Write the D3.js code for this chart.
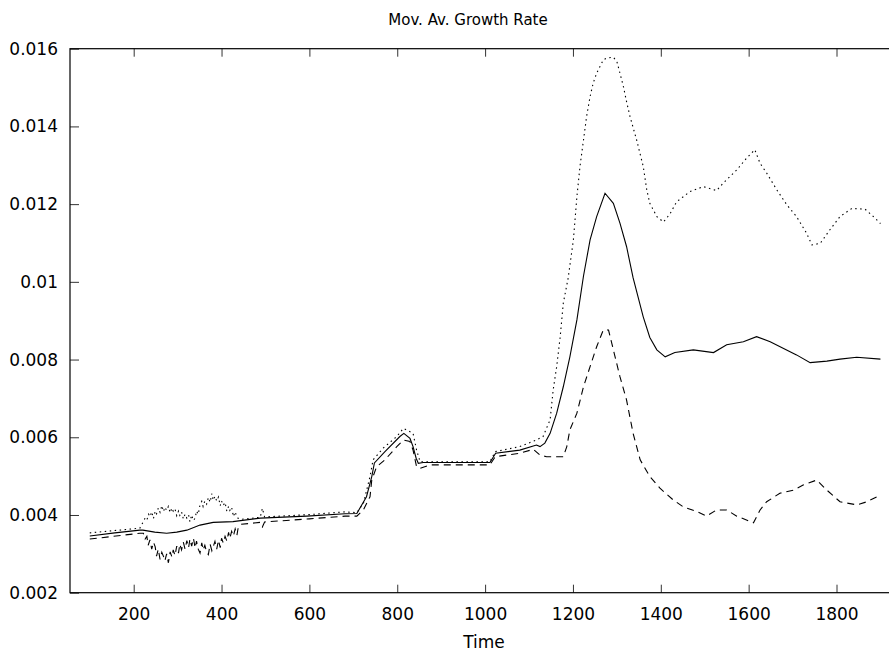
<!DOCTYPE html>
<html>
<head>
<meta charset="utf-8">
<script src="https://cdn.jsdelivr.net/npm/d3@7"></script>
<style>
  body { margin: 0; background: #fff; }
  text { font-family: "DejaVu Sans", sans-serif; fill: #000; }
</style>
</head>
<body>
<div id="chart"></div>
<script>
// tick values and labels
var xTicks = [200, 400, 600, 800, 1000, 1200, 1400, 1600, 1800];
var xTickLabels = ["200", "400", "600", "800", "1000", "1200", "1400", "1600", "1800"];
var yTicks = [0.002, 0.004, 0.006, 0.008, 0.01, 0.012, 0.014, 0.016];
var yTickLabels = ["0.002", "0.004", "0.006", "0.008", "0.01", "0.012", "0.014", "0.016"];

// mean (solid line)
var meanT = [100,157,214,221,248,275,298,321,351,381,426,488,594,681,708,730,742,748,772,806,
  815,829,836,843,848,859,1011,1024,1079,1117,1125,1136,1148,1163,1178,1193,1209,1224,1239,1254,
  1273,1292,1307,1322,1337,1360,1375,1391,1410,1432,1474,1520,1550,1588,1618,1649,1709,1740,1778,1808,
  1846,1900];
var meanV = [0.00346,0.00354,0.00361,0.00361,0.00356,0.00353,0.00356,0.00361,0.00374,0.00381,0.00383,0.00392,0.00397,0.00403,0.00404,0.00447,0.00499,0.00534,0.00563,0.00602,
  0.00610,0.00597,0.00576,0.00546,0.00533,0.00535,0.00535,0.00559,0.00567,0.00580,0.00576,0.00585,0.00610,0.00662,0.00730,0.00807,0.00902,0.01015,0.01108,0.01168,
  0.01228,0.01202,0.01151,0.01091,0.01010,0.00910,0.00857,0.00825,0.00807,0.00818,0.00825,0.00818,0.00838,0.00846,0.00859,0.00846,0.00812,0.00792,0.00796,0.00801,
  0.00806,0.00801];

// upper band (dotted line)
var upperT = [100,214,
  222,226,230,234,237,241,245,249,252,256,260,264,268,271,275,279,283,287,290,294,
  298,302,305,309,313,317,321,325,328,332,336,340,343,347,351,355,358,362,366,370,
  374,378,381,385,389,393,397,400,404,408,412,416,419,423,427,431,434,438,446,
  488,493,498,600,681,708,723,738,745,768,799,814,836,844,852,1011,1023,1079,1117,1132,
  1148,1155,1163,1171,1178,1189,1201,1209,1216,1224,1231,1239,1246,1254,1269,1277,1292,1300,1307,1315,
  1322,1330,1345,1360,1368,1375,1391,1406,1421,1436,1466,1497,1527,1542,1573,1595,1614,1626,1641,1664,
  1687,1709,1732,1744,1763,1785,1808,1835,1865,1884,1900];
var upperV = [0.00354,0.00366,
  0.00383,0.00392,0.00387,0.00402,0.00396,0.00408,0.00391,0.00410,0.00403,0.00418,0.00407,0.00424,0.00409,0.00420,0.00412,0.00422,0.00406,0.00418,0.00410,0.00416,
  0.00398,0.00410,0.00399,0.00408,0.00390,0.00402,0.00392,0.00400,0.00383,0.00400,0.00386,0.00392,0.00410,0.00402,0.00426,0.00435,0.00422,0.00436,0.00428,0.00445,
  0.00433,0.00455,0.00438,0.00448,0.00436,0.00446,0.00424,0.00436,0.00425,0.00432,0.00410,0.00422,0.00412,0.00420,0.00396,0.00408,0.00398,0.00391,0.00389,
  0.00394,0.00417,0.00395,0.00401,0.00408,0.00406,0.00430,0.00499,0.00542,0.00572,0.00602,0.00623,0.00610,0.00567,0.00537,0.00537,0.00563,0.00576,0.00593,0.00602,
  0.00645,0.00722,0.00782,0.00859,0.00945,0.01009,0.01108,0.01219,0.01297,0.01365,0.01425,0.01477,0.01511,0.01537,0.01571,0.01576,0.01578,0.01567,0.01537,0.01502,
  0.01464,0.01425,0.01365,0.01297,0.01237,0.01202,0.01168,0.01154,0.01175,0.01206,0.01232,0.01245,0.01235,0.01254,0.01288,0.01318,0.01340,0.01305,0.01280,0.01237,
  0.01198,0.01168,0.01125,0.01095,0.01099,0.01134,0.01168,0.01189,0.01187,0.01168,0.01150];

// lower band (dashed line)
var lowerT = [100,214,
  222,226,230,233,237,241,245,249,252,256,260,264,268,271,275,279,283,287,290,294,
  298,302,305,309,313,317,321,325,328,332,336,340,343,347,351,355,358,362,366,370,
  374,378,381,385,389,393,397,400,404,408,412,416,419,423,427,431,435,438,445,
  488,493,498,600,681,708,723,738,742,753,772,799,814,829,836,844,852,875,1011,1023,
  1079,1110,1125,1140,1178,1186,1193,1209,1224,1239,1254,1269,1281,1292,1307,1322,1337,1353,1375,1398,
  1428,1451,1482,1504,1527,1550,1573,1595,1611,1626,1641,1671,1702,1724,1755,1778,1808,1846,1869,1900];
var lowerV = [0.00338,0.00353,
  0.00353,0.00338,0.00345,0.00322,0.00336,0.00312,0.00330,0.00318,0.00294,0.00312,0.00286,0.00304,0.00293,0.00282,0.00300,0.00277,0.00305,0.00292,0.00310,0.00296,
  0.00320,0.00302,0.00325,0.00310,0.00330,0.00312,0.00334,0.00316,0.00338,0.00320,0.00340,0.00315,0.00333,0.00312,0.00302,0.00328,0.00310,0.00322,0.00305,0.00298,
  0.00325,0.00308,0.00318,0.00332,0.00312,0.00335,0.00316,0.00340,0.00328,0.00345,0.00333,0.00355,0.00340,0.00358,0.00346,0.00364,0.00348,0.00368,0.00376,
  0.00381,0.00369,0.00382,0.00390,0.00397,0.00397,0.00413,0.00447,0.00490,0.00524,0.00542,0.00576,0.00593,0.00589,0.00567,0.00524,0.00520,0.00529,0.00529,0.00550,
  0.00559,0.00569,0.00554,0.00550,0.00550,0.00576,0.00619,0.00662,0.00730,0.00782,0.00833,0.00876,0.00876,0.00825,0.00756,0.00696,0.00610,0.00542,0.00499,0.00469,
  0.00439,0.00421,0.00409,0.00397,0.00413,0.00413,0.00397,0.00387,0.00380,0.00413,0.00434,0.00456,0.00464,0.00477,0.00490,0.00464,0.00434,0.00426,0.00434,0.00451];

var margins = {left: 70, right: 898, top: 48.7, bottom: 592.7};

var xx = d3.scaleLinear().domain([55, 1940]).range([margins.left, margins.right]);
var yy = d3.scaleLinear().domain([0.002, 0.016]).range([margins.bottom, margins.top]);

var svg = d3.select("#chart").append("svg")
  .attr("width", 889)
  .attr("height", 653);

svg.append("clipPath").attr("id", "plotclip")
  .append("rect")
  .attr("x", margins.left).attr("y", margins.top)
  .attr("width", margins.right - margins.left)
  .attr("height", margins.bottom - margins.top);

// title
svg.append("text")
  .attr("x", 468).attr("y", 25)
  .attr("text-anchor", "middle")
  .style("font-size", "15px")
  .text("Mov. Av. Growth Rate");

// axes (ticks point inward like gnuplot)
var xAxis = svg.append("g")
  .attr("transform", "translate(0," + margins.bottom + ")")
  .call(d3.axisBottom(xx).tickValues(xTicks)
    .tickFormat(function(d, i) { return xTickLabels[i]; })
    .tickSize(-8).tickPadding(15));

var xTop = svg.append("g")
  .attr("transform", "translate(0," + margins.top + ")")
  .call(d3.axisTop(xx).tickValues(xTicks)
    .tickFormat("").tickSize(-8));

var yAxis = svg.append("g")
  .attr("transform", "translate(" + margins.left + ",0)")
  .call(d3.axisLeft(yy).tickValues(yTicks)
    .tickFormat(function(d, i) { return yTickLabels[i]; })
    .tickSize(-9).tickPadding(12));

[xAxis, xTop, yAxis].forEach(function(g) {
  g.select(".domain").remove();
  g.selectAll(".tick line").attr("stroke", "#333");
  g.selectAll(".tick text")
    .style("font-size", "17px")
    .style("font-family", "'DejaVu Sans', sans-serif")
    .attr("fill", "#000");
});

// frame
svg.append("rect")
  .attr("x", margins.left).attr("y", margins.top)
  .attr("width", margins.right - margins.left)
  .attr("height", margins.bottom - margins.top)
  .attr("fill", "none")
  .attr("stroke", "#000")
  .attr("stroke-width", 1.2);

// x label
svg.append("text")
  .attr("x", 484).attr("y", 648)
  .attr("text-anchor", "middle")
  .style("font-size", "17px")
  .text("Time");

var valueline = d3.line()
  .x(function(d) { return xx(d.t); })
  .y(function(d) { return yy(d.v); });

function zip(ts, vs) {
  return ts.map(function(t, i) { return {t: t, v: vs[i]}; });
}

var series = [
  {data: zip(upperT, upperV), dash: "1.5,3.5"},
  {data: zip(lowerT, lowerV), dash: "7,5"},
  {data: zip(meanT, meanV), dash: null}
];

var plot = svg.append("g").attr("clip-path", "url(#plotclip)");

series.forEach(function(s) {
  plot.append("path")
    .datum(s.data)
    .attr("fill", "none")
    .attr("stroke", "#000")
    .attr("stroke-width", 1.1)
    .attr("stroke-dasharray", s.dash)
    .attr("d", valueline);
});
</script>
</body>
</html>
